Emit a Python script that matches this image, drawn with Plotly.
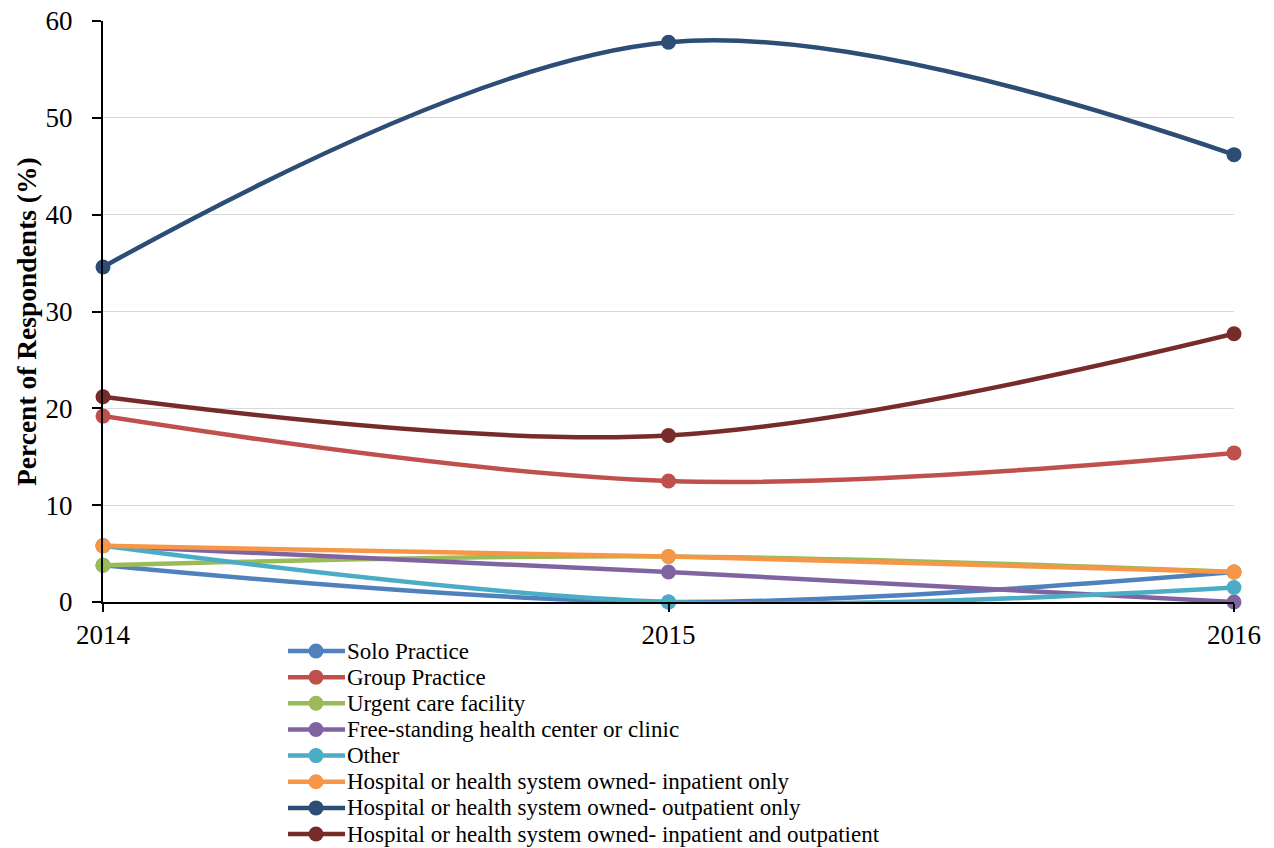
import plotly.graph_objects as go

# Survey years
years = [2014, 2015, 2016]

# Practice setting categories and their colours
series_names = [
    "Solo Practice",
    "Group Practice",
    "Urgent care facility",
    "Free-standing health center or clinic",
    "Other",
    "Hospital or health system owned- inpatient only",
    "Hospital or health system owned- outpatient only",
    "Hospital or health system owned- inpatient and outpatient",
]
series_colors = [
    "#4F81BD", "#C0504D", "#9BBB59", "#8064A2",
    "#4BACC6", "#F79646", "#2C4D75", "#772C2A",
]

# Percent of respondents per year
solo_practice = [3.8, 0.0, 3.1]
group_practice = [19.2, 12.5, 15.4]
urgent_care = [3.8, 4.7, 3.1]
free_standing = [5.8, 3.1, 0.0]
other = [5.8, 0.0, 1.5]
inpatient_only = [5.8, 4.7, 3.1]
outpatient_only = [34.6, 57.8, 46.2]
inpatient_outpatient = [21.2, 17.2, 27.7]

series_values = [
    solo_practice, group_practice, urgent_care, free_standing,
    other, inpatient_only, outpatient_only, inpatient_outpatient,
]

y_ticks = [0, 10, 20, 30, 40, 50, 60]
y_title = "Percent of Respondents (%)"

FONT = "Times New Roman"
W, H = 1274, 848
ML, MR, MT, MB = 103, 40, 21, 246
PW, PH = W - ML - MR, H - MT - MB

fig = go.Figure()
for name, color, vals in zip(series_names, series_colors, series_values):
    fig.add_trace(go.Scatter(
        x=years, y=vals, name=name, mode="lines+markers",
        line=dict(color=color, width=4.5, shape="spline", smoothing=1),
        marker=dict(color=color, size=15),
        cliponaxis=False, showlegend=False,
    ))


def px_x(p):
    return (p - ML) / PW


def px_y(p):
    return (H - MB - p) / PH


# Legend drawn below the plot: line + dot swatch and label per series
shapes = []
annotations = []
row_y0, row_step = 651, 26.15
for i, (name, color) in enumerate(zip(series_names, series_colors)):
    cy = row_y0 + i * row_step
    shapes.append(dict(
        type="line", xref="paper", yref="paper",
        x0=px_x(288), x1=px_x(345), y0=px_y(cy), y1=px_y(cy),
        line=dict(color=color, width=4.5),
    ))
    shapes.append(dict(
        type="circle", xref="paper", yref="paper",
        xsizemode="pixel", ysizemode="pixel",
        xanchor=px_x(316), yanchor=px_y(cy),
        x0=-7.5, x1=7.5, y0=-7.5, y1=7.5,
        fillcolor=color, line=dict(color=color, width=0),
    ))
    annotations.append(dict(
        text=name, xref="paper", yref="paper",
        x=px_x(346), y=px_y(cy), xanchor="left", yanchor="middle",
        showarrow=False, borderpad=0,
        font=dict(family=FONT, size=23, color="#000000"),
    ))

# Vertical y-axis title
annotations.append(dict(
    text="<b>" + y_title + "</b>", xref="paper", yref="paper",
    x=px_x(26), y=px_y(322), xanchor="center", yanchor="middle",
    textangle=-90, showarrow=False,
    font=dict(family=FONT, size=27.5, color="#000000"),
))

fig.update_layout(
    width=W, height=H,
    margin=dict(l=ML, r=MR, t=MT, b=MB, autoexpand=False),
    paper_bgcolor="white", plot_bgcolor="white",
    font=dict(family=FONT, color="#000000"),
    shapes=shapes, annotations=annotations,
    showlegend=False,
)
fig.update_xaxes(
    range=[2014, 2016], tickvals=years, ticktext=[str(y) for y in years],
    showgrid=False, showline=True, linecolor="#000000", linewidth=2,
    ticks="outside", ticklen=8, tickwidth=2, tickcolor="#000000",
    ticklabelstandoff=0, tickfont=dict(family=FONT, size=27),
    zeroline=False, automargin=False,
)
fig.update_yaxes(
    range=[0, 60], tickvals=y_ticks,
    showgrid=True, gridcolor="#D9D9D9", gridwidth=1,
    showline=True, linecolor="#000000", linewidth=2,
    ticks="outside", ticklen=9, tickwidth=2, tickcolor="#000000",
    ticklabelstandoff=14, tickfont=dict(family=FONT, size=27),
    zeroline=False, automargin=False,
)

fig.write_html("out.html")
